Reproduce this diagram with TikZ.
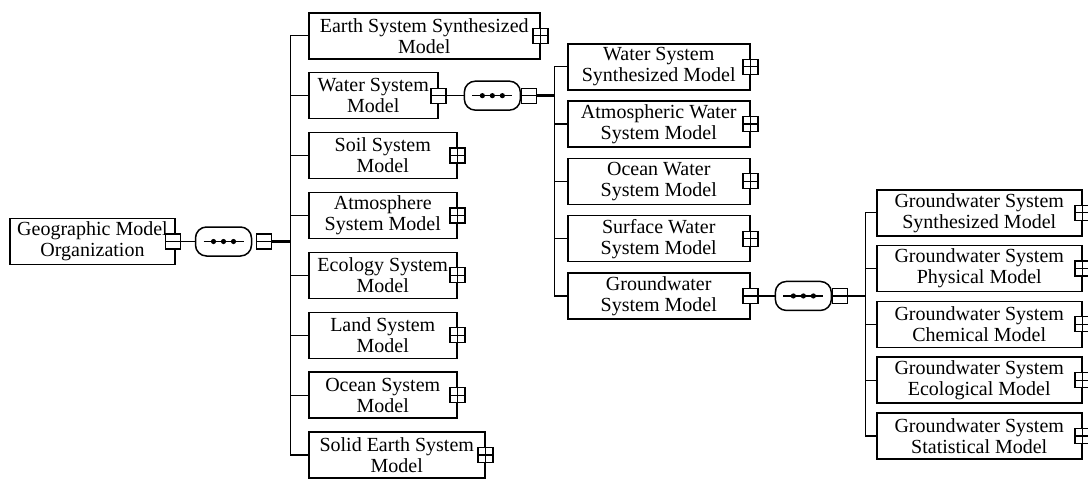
\documentclass[tikz,border=0pt]{standalone}
\usepackage{fontspec}
\setmainfont{Liberation Serif}
\usetikzlibrary{positioning}

\begin{document}
\begin{tikzpicture}[x=1pt, y=-1pt,
  box/.style={draw, line width=1.5pt, minimum height=46pt, align=center, inner xsep=2pt, inner ysep=0pt, font=\fontsize{20}{21}\selectfont},
  lvlone/.style={box, minimum width=148pt},
  lvltwo/.style={box, minimum width=182pt},
  lvlthree/.style={box, minimum width=205pt},
  plusbox/.style={draw, line width=1.2pt, fill=white, minimum size=15pt, inner sep=0pt,
    path picture={\draw[line width=1.2pt] (path picture bounding box.north) -- (path picture bounding box.south)
      (path picture bounding box.west) -- (path picture bounding box.east);}},
  minusbox/.style={draw, line width=1.2pt, fill=white, minimum size=15pt, inner sep=0pt,
    path picture={\draw[line width=1.2pt] (path picture bounding box.west) -- (path picture bounding box.east);}},
  seqbox/.style={draw, line width=1.5pt, rounded corners=11pt, minimum width=56pt, minimum height=29pt, inner sep=0pt,
    path picture={\draw[line width=1.2pt] ([xshift=8pt]path picture bounding box.west) -- ([xshift=-8pt]path picture bounding box.east);
      \foreach \d in {-10,0,10} \fill ([xshift=\d pt]path picture bounding box.center) circle (2.6pt);}},
  link/.style={line width=1.2pt},
  trunk/.style={line width=2.4pt}]
\useasboundingbox (0,0) rectangle (1088,480);

\node[box, minimum width=165pt] (geo) at (92.5,241.5) {Geographic Model\\Organization};
\node[minusbox] (geoc) at ([xshift=-3pt]geo.east) {};
\node[seqbox] (seq1) at (223.5,241.5) {};
\node[minusbox, right=4pt of seq1] (seq1s) {};
\coordinate[right=18pt of seq1s] (b1);
\draw[link] (geoc) -- (seq1);
\draw[trunk] (seq1s) -- (b1);

\node[lvlone, minimum width=231pt, anchor=north west] (earth) at (308,12) {Earth System Synthesized\\Model};
\node[lvlone, minimum width=129pt, below=12.4pt of earth.south west, anchor=north west] (water) {Water System\\Model};
\node[lvlone, below=12.4pt of water.south west, anchor=north west] (soil) {Soil System\\Model};
\node[lvlone, below=12.4pt of soil.south west, anchor=north west] (atmo) {Atmosphere\\System Model};
\node[lvlone, below=12.4pt of atmo.south west, anchor=north west] (ecol) {Ecology System\\Model};
\node[lvlone, below=12.4pt of ecol.south west, anchor=north west] (land) {Land System\\Model};
\node[lvlone, below=12.4pt of land.south west, anchor=north west] (ocean) {Ocean System\\Model};
\node[lvlone, minimum width=176pt, below=12.4pt of ocean.south west, anchor=north west] (solid) {Solid Earth System\\Model};
\foreach \n in {earth,water,soil,atmo,ecol,land,ocean,solid}
  \draw[link] (b1) |- (\n.west);

\node[minusbox] (waterc) at (water.east) {};
\node[seqbox, right=17pt of waterc] (seq2) {};
\node[minusbox, right=0pt of seq2] (seq2s) {};
\coordinate[right=17pt of seq2s] (b2);
\draw[link] (waterc) -- (seq2);
\draw[trunk] (seq2s) -- (b2);

\node[lvltwo, anchor=north west] (wsyn) at (567,43) {Water System\\Synthesized Model};
\node[lvltwo, below=9.8pt of wsyn.south west, anchor=north west] (watm) {Atmospheric Water\\System Model};
\node[lvltwo, below=9.8pt of watm.south west, anchor=north west] (wocean) {Ocean Water\\System Model};
\node[lvltwo, below=9.8pt of wocean.south west, anchor=north west] (wsurf) {Surface Water\\System Model};
\node[lvltwo, below=9.8pt of wsurf.south west, anchor=north west] (gw) {Groundwater\\System Model};
\foreach \n in {wsyn,watm,wocean,wsurf,gw}
  \draw[link] (b2) |- (\n.west);

\node[minusbox] (gwc) at (gw.east) {};
\node[seqbox, right=16pt of gwc] (seq3) {};
\node[minusbox, right=0pt of seq3] (seq3s) {};
\coordinate[right=17pt of seq3s] (b3);
\draw[link] (gwc) -- (seq3);
\draw[trunk] (seq3s) -- (b3);

\node[lvlthree, anchor=north west] (gsyn) at (876,189) {Groundwater System\\Synthesized Model};
\node[lvlthree, below=8.3pt of gsyn.south west, anchor=north west] (gphys) {Groundwater System\\Physical Model};
\node[lvlthree, below=8.3pt of gphys.south west, anchor=north west] (gchem) {Groundwater System\\Chemical Model};
\node[lvlthree, below=8.3pt of gchem.south west, anchor=north west] (geco) {Groundwater System\\Ecological Model};
\node[lvlthree, below=8.3pt of geco.south west, anchor=north west] (gstat) {Groundwater System\\Statistical Model};
\foreach \n in {gsyn,gphys,gchem,geco,gstat}
  \draw[link] (b3) |- (\n.west);

\foreach \n in {earth,soil,atmo,ecol,land,ocean,solid,wsyn,watm,wocean,wsurf,gsyn,gphys,gchem,geco,gstat}
  \node[plusbox] at (\n.east) {};
\end{tikzpicture}
\end{document}
